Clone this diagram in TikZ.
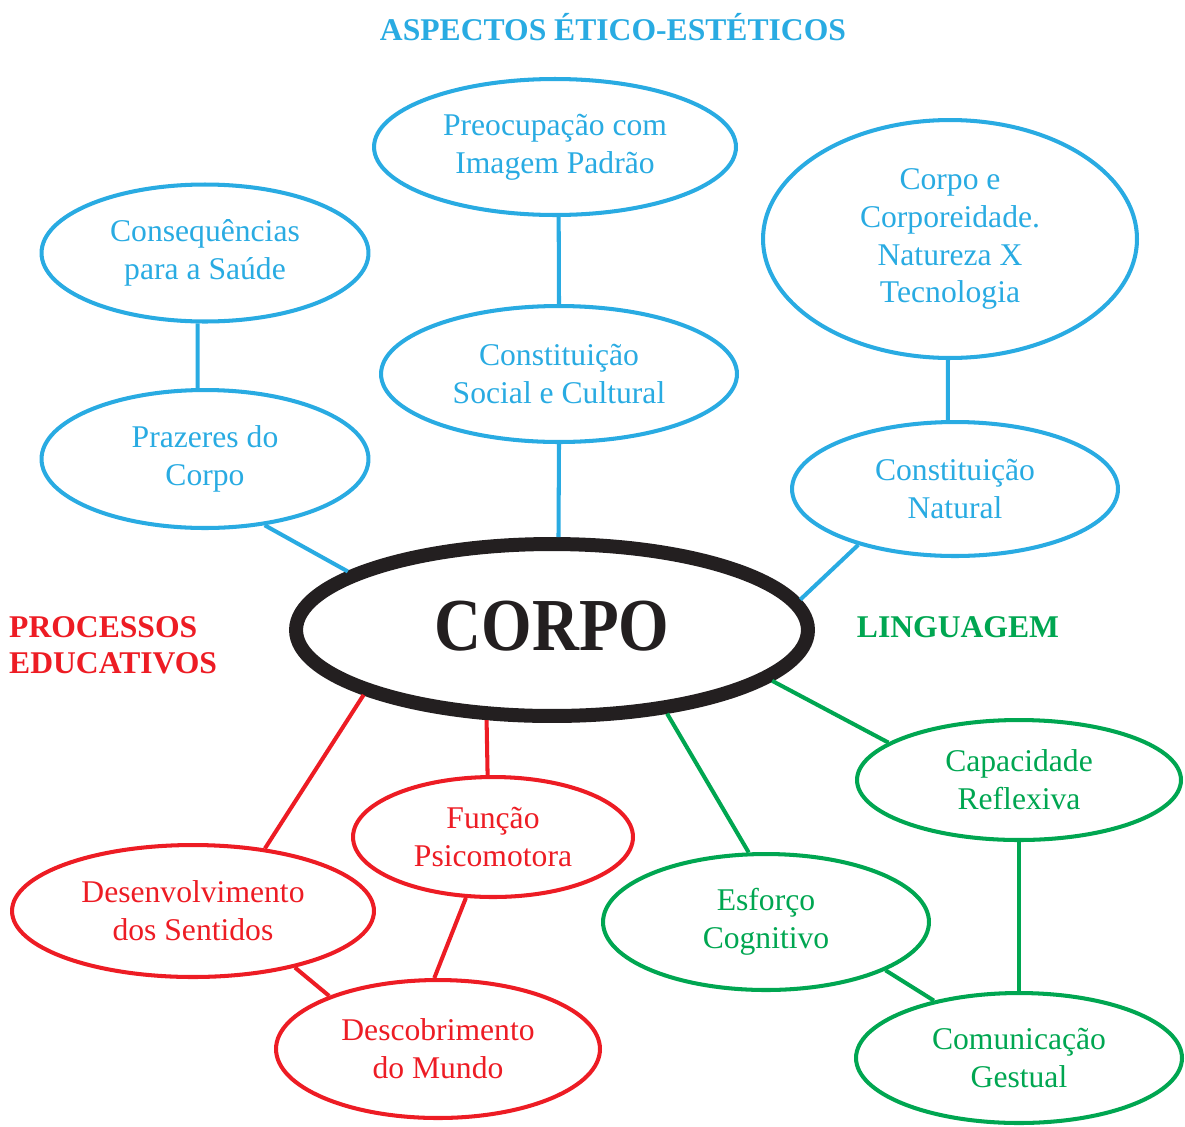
\documentclass[tikz,border=0pt]{standalone}
\usepackage{fontspec}
\setmainfont{Liberation Serif}
\usepackage{tikz}
\usetikzlibrary{shapes.geometric}
\usepackage{xcolor}
\definecolor{azul}{HTML}{29ABE2}
\definecolor{vermelho}{HTML}{ED1C24}
\definecolor{verde}{HTML}{00A651}
\definecolor{preto}{HTML}{231F20}

\begin{document}
\begin{tikzpicture}[x=0.02cm, y=-0.02cm,
    bolha/.style={ellipse, draw, line width=2.3pt, inner sep=0pt, align=center,
        font=\fontsize{18}{21.6}\selectfont},
    liga/.style={line width=2.3pt},
    rotulo/.style={font=\bfseries\fontsize{18}{20.5}\selectfont}]
    \useasboundingbox (0,0) rectangle (1185,1126);

    % titulos dos eixos
    \node[rotulo, azul] (tetico) at (613,27) {ASPECTOS ÉTICO-ESTÉTICOS};
    \node[rotulo, vermelho, anchor=west, align=left] (tproc) at (3,645) {PROCESSOS\\EDUCATIVOS};
    \node[rotulo, verde] (tling) at (958,627) {LINGUAGEM};

    % centro
    \node[ellipse, draw=preto, text=preto, line width=0.28cm, inner sep=0pt,
        minimum width=10.24cm, minimum height=3.44cm,
        font=\bfseries\fontsize{37}{40}\selectfont] (corpo) at (552,630)
        {\raisebox{0.16cm}{\scalebox{1}[1.15]{CORPO}}};

    % aspectos etico-esteticos
    \node[bolha, azul, minimum width=7.24cm, minimum height=2.72cm] (preoc) at (555,147) {Preocupação com\\Imagem Padrão};
    \node[bolha, azul, minimum width=6.54cm, minimum height=2.74cm] (cons) at (205,253) {Consequências\\para a Saúde};
    \node[bolha, azul, minimum width=7.48cm, minimum height=4.76cm] (corporeid) at (950,239) {Corpo e\\Corporeidade.\\Natureza X\\Tecnologia};
    \node[bolha, azul, minimum width=7.12cm, minimum height=2.72cm] (social) at (559,374) {Constituição\\Social e Cultural};
    \node[bolha, azul, minimum width=6.54cm, minimum height=2.76cm] (praz) at (205,459) {Prazeres do\\Corpo};
    \node[bolha, azul, minimum width=6.52cm, minimum height=2.68cm] (natural) at (955,489) {Constituição\\Natural};

    % linguagem
    \node[bolha, verde, minimum width=6.48cm, minimum height=2.4cm] (capac) at (1019,780) {Capacidade\\Reflexiva};
    \node[bolha, verde, minimum width=6.52cm, minimum height=2.72cm] (esforco) at (766,922) {Esforço\\Cognitivo};
    \node[bolha, verde, minimum width=6.52cm, minimum height=2.6cm] (comun) at (1019,1058) {Comunicação\\Gestual};

    % processos educativos
    \node[bolha, vermelho, minimum width=5.6cm, minimum height=2.4cm] (funcao) at (493,837) {Função\\Psicomotora};
    \node[bolha, vermelho, minimum width=7.24cm, minimum height=2.64cm] (desenv) at (193,911) {Desenvolvimento\\dos Sentidos};
    \node[bolha, vermelho, minimum width=6.48cm, minimum height=2.76cm] (descob) at (438,1049) {Descobrimento\\do Mundo};

    % ligacoes
    \draw[liga, azul] (cons.264) -- (praz.96);
    \draw[liga, azul] (preoc.273) -- (social.north);
    \draw[liga, azul] (corporeid.269) -- (natural.96);
    \draw[liga, azul] (praz.312) -- (corpo.164);
    \draw[liga, azul] (social.south) -- (corpo.86);
    \draw[liga, azul] (natural.210) -- (corpo.7);

    \draw[liga, verde] (corpo.347) -- (capac.164);
    \draw[liga, verde] (corpo.324) -- (esforco.104);
    \draw[liga, verde] (capac.south) -- (comun.north);
    \draw[liga, verde] (esforco.338) -- (comun.146);

    \draw[liga, vermelho] (corpo.234) -- (funcao.95);
    \draw[liga, vermelho] (corpo.199) -- (desenv.41);
    \draw[liga, vermelho] (funcao.246) -- (descob.93);
    \draw[liga, vermelho] (desenv.331) -- (descob.154);
\end{tikzpicture}
\end{document}
